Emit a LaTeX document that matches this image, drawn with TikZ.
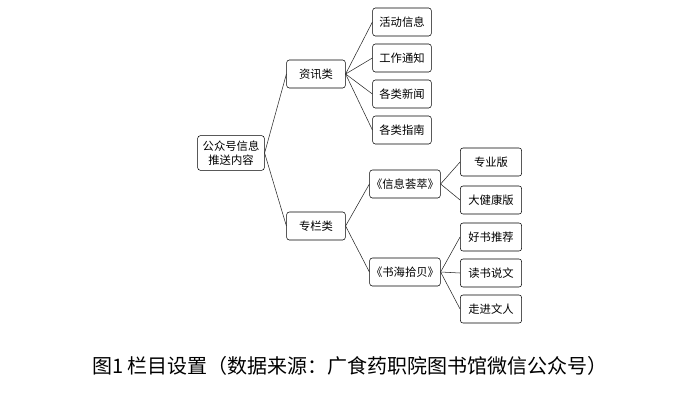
\documentclass[tikz,border=0pt]{standalone}
\usepackage{fontspec}
\setmainfont{Noto Sans CJK SC}
\tikzset{
  box/.style={draw, rounded corners=2pt, minimum width=#1, minimum height=21pt,
    inner sep=1pt, align=center, font=\fontsize{8.5}{10}\selectfont},
  box/.default=44pt,
  link/.style={draw, thin, gray!30!black}
}
\begin{document}
\begin{tikzpicture}[x=0.75pt,y=-0.75pt]
\useasboundingbox (0,0) rectangle (700,400);
% root and first level
\node[box=50pt,minimum height=26pt] (root) at (231,153) {公众号信息\\推送内容};
\node[box] (news) at (316,74) {资讯类};
\node[box] (col) at (316,226) {专栏类};
% news leaves
\node[box] (n1) at (402,22) {活动信息};
\node[box] (n2) at (402,58) {工作通知};
\node[box] (n3) at (402,94) {各类新闻};
\node[box] (n4) at (402,130) {各类指南};
% columns
\node[box=52pt] (c1) at (405,184) {《信息荟萃》};
\node[box=52pt] (c2) at (405,272) {《书海拾贝》};
\node[box=46pt] (c11) at (491,162) {专业版};
\node[box=46pt] (c12) at (491,200) {大健康版};
\node[box=46pt] (c21) at (491,237) {好书推荐};
\node[box=46pt] (c22) at (491,273) {读书说文};
\node[box=46pt] (c23) at (491,309) {走进文人};
% links
\foreach \a/\b in {root/news,root/col,news/n1,news/n2,news/n3,news/n4,
  col/c1,col/c2,c1/c11,c1/c12,c2/c21,c2/c22,c2/c23}
  \draw[link] (\a.east) -- (\b.west);
% caption
\node[font=\fontsize{15}{18}\selectfont] (cap) at (350,366) {图1 栏目设置（数据来源：广食药职院图书馆微信公众号）};
\end{tikzpicture}
\end{document}
